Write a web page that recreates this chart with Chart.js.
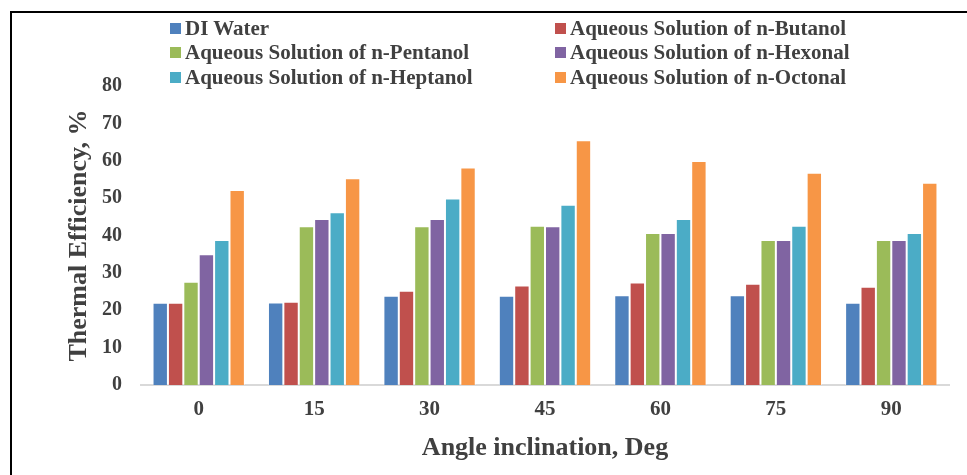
<!DOCTYPE html>
<html>
<head>
<meta charset="utf-8">
<script src="https://cdn.jsdelivr.net/npm/chart.js@4.4.1/dist/chart.umd.min.js"></script>
<style>
  body { margin: 0; background: #fff; }
  #wrap { position: relative; width: 967px; height: 475px; overflow: hidden; }
  #frame { position: absolute; left: 10px; top: 11px; width: 2000px; height: 2000px;
           border-top: 2px solid #000; border-left: 2px solid #000; }
  #legend { position: absolute; left: 0; top: 0; font-family: 'Liberation Serif', 'Times New Roman', serif;
            font-weight: bold; font-size: 21px; color: #404040; }
  .item { position: absolute; white-space: nowrap; line-height: 24px; }
  .box { display: inline-block; width: 11px; height: 11px; margin-right: 4px; vertical-align: 1px; }
</style>
</head>
<body>
<div id="wrap">
  <canvas id="chart_bars" width="967" height="475"></canvas>
  <div id="frame"></div>
  <div id="legend"></div>
</div>
<script>
// datos
var angulos = ['0', '15', '30', '45', '60', '75', '90'];
var nombres = ['DI Water', 'Aqueous Solution of n-Butanol', 'Aqueous Solution of n-Pentanol',
  'Aqueous Solution of n-Hexonal', 'Aqueous Solution of n-Heptanol', 'Aqueous Solution of n-Octonal'];
var colores = ['#4F81BD', '#C0504D', '#9BBB59', '#8064A2', '#4BACC6', '#F79646'];

var diWater = [22.0, 22.1, 23.9, 23.9, 24.0, 24.0, 22.0];
var butanol = [22.0, 22.3, 25.2, 26.6, 27.4, 27.1, 26.3];
var pentanol = [27.6, 42.5, 42.5, 42.6, 40.7, 38.8, 38.8];
var hexonal = [35.0, 44.4, 44.4, 42.5, 40.7, 38.8, 38.8];
var heptanol = [38.8, 46.2, 49.9, 48.2, 44.4, 42.6, 40.7];
var octonal = [52.2, 55.3, 58.2, 65.5, 59.9, 56.8, 54.1];

var yTicks = [0, 10, 20, 30, 40, 50, 60, 70, 80];

var series = [diWater, butanol, pentanol, hexonal, heptanol, octonal];
var fuente = "'Liberation Serif', 'Times New Roman', serif";

Chart.defaults.font.family = fuente;
Chart.defaults.font.weight = 'bold';
Chart.defaults.color = '#404040';

var datasets = series.map(function (valores, i) {
  return {
    label: nombres[i],
    data: valores,
    backgroundColor: colores[i],
    borderColor: 'rgba(255,255,255,0.45)',
    borderWidth: 1,
    categoryPercentage: 0.8,
    barPercentage: 1.0
  };
});

var ctx = document.getElementById('chart_bars').getContext('2d');
var chart = new Chart(ctx, {
  type: 'bar',
  data: { labels: angulos, datasets: datasets },
  options: {
    responsive: false,
    animation: false,
    layout: { padding: { top: 86, right: 18, bottom: 0, left: 0 } },
    plugins: { legend: { display: false }, tooltip: { enabled: false } },
    scales: {
      x: {
        grid: { display: false, drawTicks: false },
        border: { display: true, color: '#d9d9d9', width: 2 },
        ticks: { padding: 12, font: { size: 21 } },
        title: { display: true, text: 'Angle inclination, Deg', font: { size: 26 }, padding: { top: 0, bottom: 11 } },
        afterFit: function (scale) { scale.height = 90; }
      },
      y: {
        min: 0,
        max: 80,
        grid: { display: false, drawTicks: false },
        border: { display: false },
        afterBuildTicks: function (scale) {
          scale.ticks = yTicks.map(function (v) { return { value: v }; });
        },
        ticks: { padding: 19, font: { size: 20 } },
        title: { display: true, text: 'Thermal Efficiency, %', font: { size: 26 }, padding: { top: 64, bottom: 0 } },
        afterFit: function (scale) { scale.width = 141; }
      }
    }
  }
});

// leyenda en dos columnas, como en la figura
var leyenda = document.getElementById('legend');
var colX = [170, 555];
var filaY = [16, 40, 65];
nombres.forEach(function (nombre, i) {
  var div = document.createElement('div');
  div.className = 'item';
  div.style.left = colX[i % 2] + 'px';
  div.style.top = filaY[Math.floor(i / 2)] + 'px';
  div.innerHTML = '<span class="box" style="background:' + colores[i] + '"></span>' + nombre;
  leyenda.appendChild(div);
});
</script>
</body>
</html>
